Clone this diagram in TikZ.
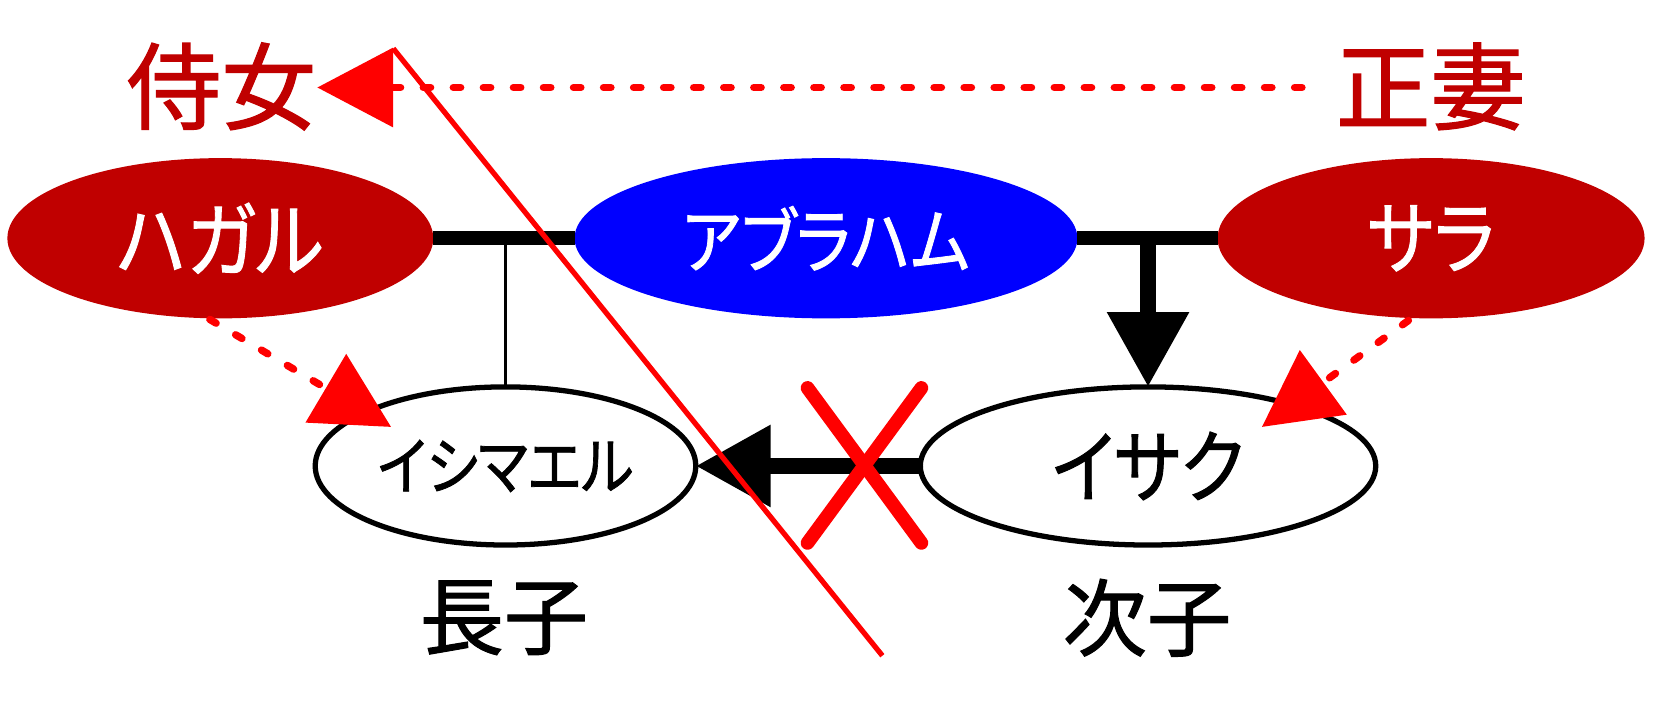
\documentclass[tikz,border=0pt]{standalone}
\usepackage{fontspec}
\newfontfamily\jp[FakeBold=1.2]{Noto Sans CJK JP}
\newfontfamily\jpp[RawFeature=+palt,FakeBold=1.2]{Noto Sans CJK JP}
\usetikzlibrary{shapes.geometric,arrows.meta}
\definecolor{dred}{HTML}{C00000}
\definecolor{bred}{HTML}{FF0000}
\definecolor{bblue}{HTML}{0000FF}
\newcommand\fsz[1]{\fontsize{#1pt}{#1pt}\selectfont}
\newcommand\kata[2]{\makebox[0pt]{\scalebox{0.88}[1]{\jpp\fsz{#1}#2}}}
\begin{document}
\begin{tikzpicture}[x=1pt,y=-1pt,
  person/.style={ellipse, inner sep=0pt, outer sep=0pt, minimum height=152pt},
  child/.style={ellipse, draw=black, fill=white, line width=5pt, inner sep=0pt, outer sep=0pt, minimum height=150pt},
  label/.style={inner sep=0pt, outer sep=0pt},
  bond/.style={draw=black, line width=13pt},
  thinbond/.style={draw=black, line width=3pt},
  bigarrow/.style={draw=black, line width=15pt, -{Triangle[length=71pt,width=74pt]}},
  dotarrow/.style={draw=bred, line width=7pt, line cap=round, dash pattern=on 7pt off 21.5pt, -{Triangle[length=72pt,width=74pt]}},
  cutline/.style={draw=bred, line width=5pt},
  cross/.style={draw=bred, line width=13pt, line cap=round}]
\useasboundingbox (0,0) rectangle (1568,668);
% persons
\node[person, fill=dred, minimum width=404pt, text=white] (hagar) at (209,226) {\kata{78}{ハガル}};
\node[person, fill=bblue, minimum width=477pt, text=white] (abraham) at (783.5,226) {\kata{68}{アブラハム}};
\node[person, fill=dred, minimum width=405pt, text=white] (sarah) at (1357.5,226) {\kata{76}{サラ}};
% marriage lines
\draw[bond] (hagar.east) -- (abraham.west);
\draw[bond] (abraham.east) -- (sarah.west);
% children
\node[child, minimum width=361pt] (ishmael) at (479.5,442) {\kata{60}{イシマエル}};
\node[child, minimum width=432pt] (isaac) at (1089,442) {\kata{76}{イサク}};
\draw[thinbond] (ishmael.north) -- (ishmael.north |- hagar.east);
\draw[bigarrow] (isaac.north |- abraham.east) -- (isaac.north);
\draw[bigarrow] (isaac.west) -- (ishmael.east);
% labels
\node[label, text=dred] (maid) at (210,82) {\jp\fsz{90}侍女};
\node[label, text=dred] (wife) at (1357,82) {\jp\fsz{90}正妻};
\node[label, text=black] (elder) at (478,586) {\jp\fsz{80}長子};
\node[label, text=black] (younger) at (1088,586) {\jp\fsz{80}次子};
% dotted arrows
\coordinate (wifeend) at (1235,83);
\coordinate (maidtip) at (301,83);
\draw[dotarrow] (wifeend) -- (maidtip);
\coordinate (hagarend) at (199,303);
\coordinate (ishtip) at (371,405);
\draw[dotarrow] (hagarend) -- (ishtip);
\coordinate (sarahend) at (1336,304);
\coordinate (isatip) at (1197,405);
\draw[dotarrow] (sarahend) -- (isatip);
% cross
\coordinate (xa) at (766,368);
\coordinate (xb) at (874,515);
\coordinate (xc) at (874,368);
\coordinate (xd) at (766,515);
\draw[cross] (xa) -- (xb);
\draw[cross] (xc) -- (xd);
% long red line
\coordinate (cutA) at (373,46);
\coordinate (cutB) at (837,622);
\draw[cutline] (cutA) -- (cutB);
\end{tikzpicture}
\end{document}
